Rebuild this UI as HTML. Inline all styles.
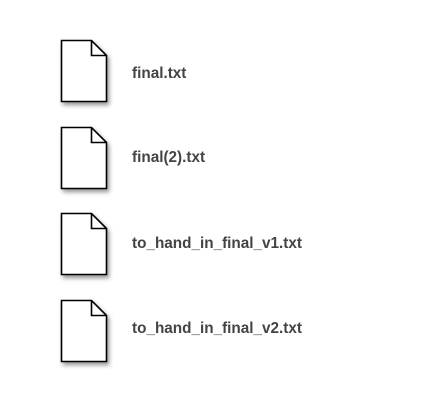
<!DOCTYPE html>
<html><head><style>
body{margin:0;width:425px;height:411px;background:#fff;position:relative;overflow:hidden;font-family:"Liberation Sans",Arial,sans-serif}
.t{position:absolute;left:132px;font-size:15.3px;font-weight:bold;color:#444}
svg{position:absolute;left:0;top:0}
</style></head><body>
<svg width="425" height="411">
<defs>
<filter id="s" x="-30%" y="-30%" width="160%" height="160%"><feDropShadow dx="2" dy="3" stdDeviation="2" flood-color="#000" flood-opacity="0.4"/></filter>
<g id="f"><path d="M61.5 40.5 H91.5 L106.5 55.5 V101.5 H61.5 Z" fill="#fff" stroke="#000" stroke-width="1.6" filter="url(#s)"/><path d="M91.5 40.5 V55.5 H106.5" fill="none" stroke="#000" stroke-width="1.6"/></g>
</defs>
<use href="#f"/>
<use href="#f" y="87"/>
<use href="#f" y="173"/>
<use href="#f" y="260"/>
</svg>
<div class="t" style="top:65px">final.txt</div>
<div class="t" style="top:149px">final(2).txt</div>
<div class="t" style="top:235px">to_hand_in_final_v1.txt</div>
<div class="t" style="top:320px">to_hand_in_final_v2.txt</div>
</body></html>
